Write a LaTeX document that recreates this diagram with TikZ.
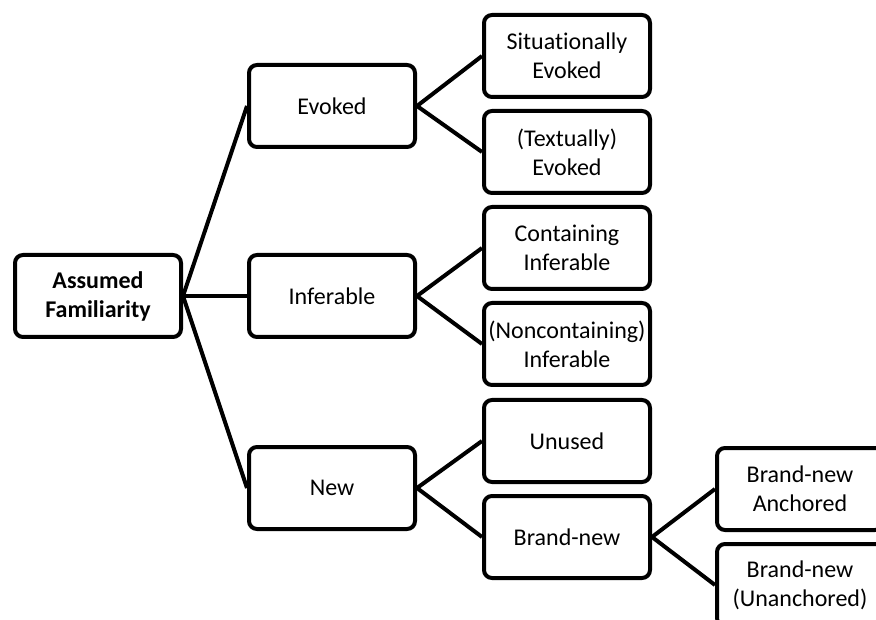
\documentclass[tikz,border=0pt]{standalone}
\usepackage{fontspec}
\setmainfont{Carlito}[Ligatures={NoCommon,NoRequired,NoContextual}]

\begin{document}
\begin{tikzpicture}[x=1pt, y=-1pt,
        box/.style={draw, line width=4pt, rounded corners=8pt, minimum width=166pt, minimum height=82pt, inner sep=0pt, align=center, font=\fontsize{24}{29}\selectfont},
        link/.style={line width=4pt}]
                % fix the frame
                \useasboundingbox (0,0) rectangle (876,620);
                \clip (0,0) rectangle (876,620);

                % draw the boxes
                \node[box, font=\fontsize{24}{29}\selectfont\bfseries] (familiarity) at (98,296) {Assumed\\Familiarity};

                \node[box] (evoked) at (332,106) {Evoked};
                \node[box] (inferable) at (332,296) {Inferable};
                \node[box] (new) at (332,488) {New};

                \node[box] (sitevoked) at (567,56) {Situationally\\Evoked};
                \node[box] (textevoked) at (567,152) {(Textually)\\Evoked};
                \node[box] (containing) at (567,248) {Containing\\Inferable};
                \node[box] (noncontaining) at (567,344) {(Noncontaining)\\Inferable};
                \node[box] (unused) at (567,441) {Unused};
                \node[box] (brandnew) at (567,537) {Brand-new};

                \node[box] (anchored) at (800,489) {Brand-new\\Anchored};
                \node[box] (unanchored) at (800,585) {Brand-new\\(Unanchored)};

                % draw the branches
                \draw[link] (familiarity.east) -- (evoked.west);
                \draw[link] (familiarity.east) -- (inferable.west);
                \draw[link] (familiarity.east) -- (new.west);

                \draw[link] (evoked.east) -- (sitevoked.west);
                \draw[link] (evoked.east) -- (textevoked.west);
                \draw[link] (inferable.east) -- (containing.west);
                \draw[link] (inferable.east) -- (noncontaining.west);
                \draw[link] (new.east) -- (unused.west);
                \draw[link] (new.east) -- (brandnew.west);

                \draw[link] (brandnew.east) -- (anchored.west);
                \draw[link] (brandnew.east) -- (unanchored.west);

            \end{tikzpicture}
\end{document}
